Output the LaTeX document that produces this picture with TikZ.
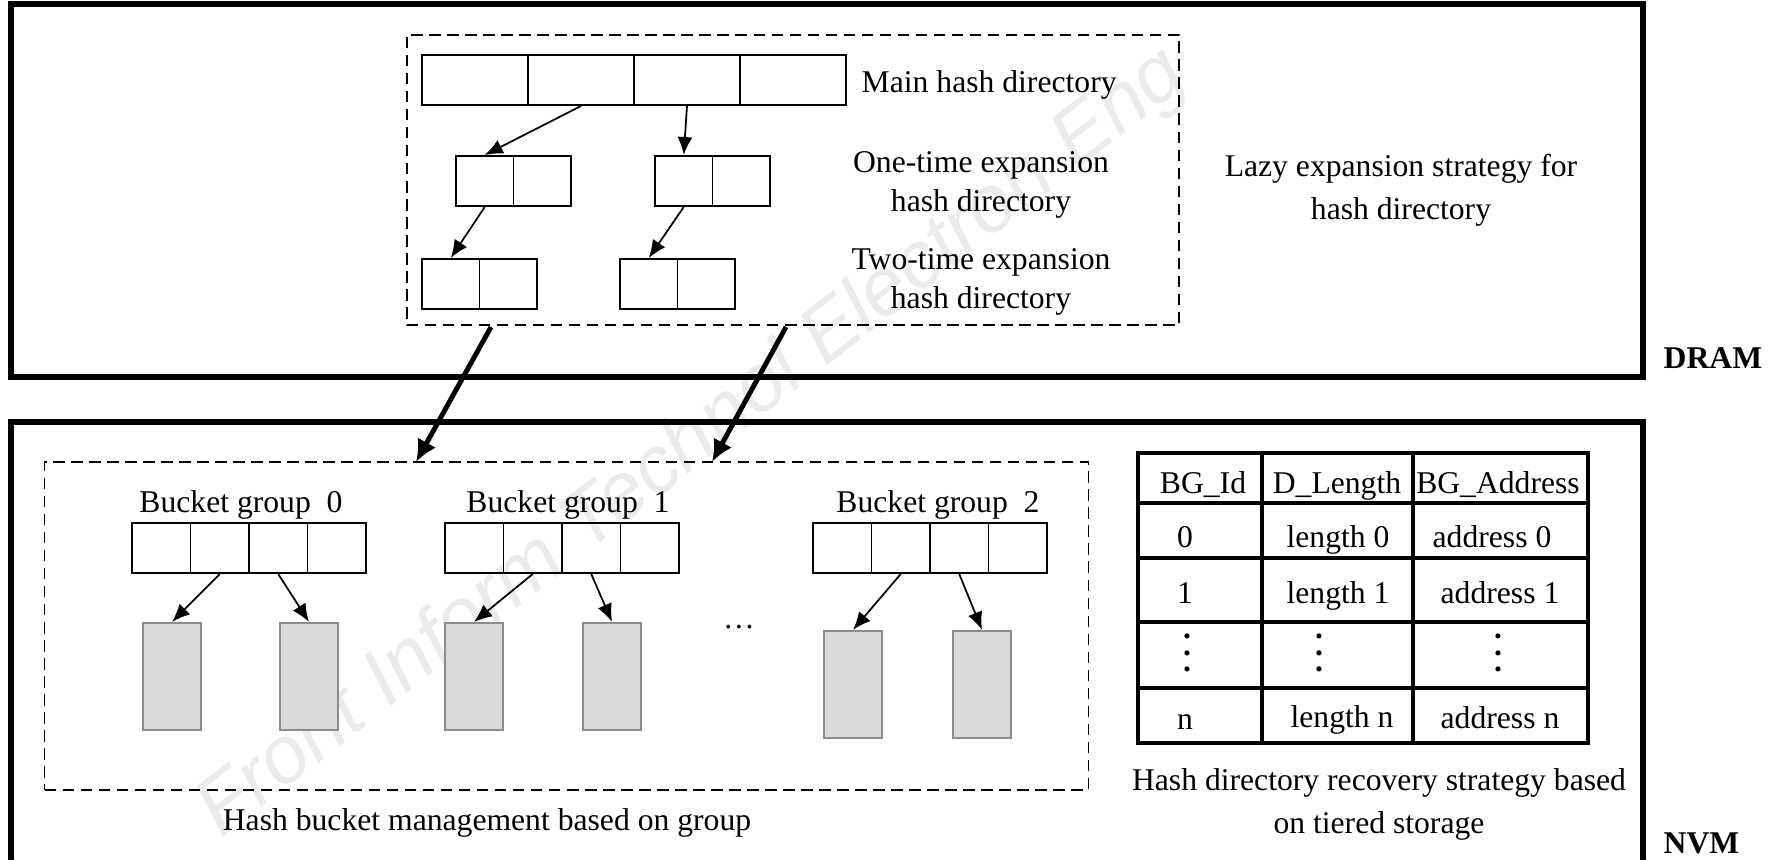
\documentclass[tikz,border=0pt]{standalone}
\usepackage{fontspec}
\setmainfont{Liberation Serif}
\setsansfont{Liberation Sans}
\usetikzlibrary{arrows.meta}
\newcommand{\tabdots}{\vbox{\baselineskip=4.7pt\lineskiplimit=0pt\hbox{\textbf{.}}\hbox{\textbf{.}}\hbox{\textbf{.}}}}

\begin{document}
\begin{tikzpicture}[x=0.01cm,y=-0.01cm,font=\fontsize{9}{11}\selectfont,
  membox/.style={line width=1.7pt},
  dashbox/.style={draw,line width=0.45pt,dash pattern=on 1.15mm off 0.65mm,inner sep=0pt},
  cell/.style={draw,line width=0.55pt,minimum height=0.5cm,inner sep=0pt},
  dircell/.style={cell,minimum width=1.06cm},
  expcell/.style={cell,minimum width=0.575cm},
  grpcell/.style={cell,minimum width=0.585cm},
  bucket/.style={draw=black!45,fill=black!15,line width=0.6pt,minimum width=0.58cm,minimum height=1.07cm,inner sep=0pt},
  ptr/.style={-{Latex[length=1.8mm,width=1.5mm]},line width=0.5pt},
  bigptr/.style={-{Latex[length=2.2mm,width=2.1mm]},line width=1.4pt},
  lbl/.style={align=center,inner sep=0pt},
  tabtxt/.style={anchor=base,inner sep=0pt},
  tabline/.style={line width=1pt},
  memlbl/.style={anchor=base west,inner sep=0pt,font=\fontsize{9}{11}\selectfont\bfseries}]

\useasboundingbox (0,0) rectangle (1775,859);

\node[rotate=38,text=black!8,font=\fontsize{23}{23}\selectfont\sffamily\itshape] (mark) at (693,444) {Front Inform Technol Electron Eng};

\draw[membox] (11,4) rectangle (1643,377);
\node[memlbl] (dram) at (1663,368) {DRAM};
\draw[membox] (11,422) rectangle (1643,880);
\node[memlbl] (nvm) at (1663,853) {NVM};

\node[dashbox,minimum width=7.72cm,minimum height=2.9cm] (dirarea) at (793,180) {};

\foreach \i in {1,...,4}
  \node[dircell] (main\i) at (369+106*\i,80) {};
\foreach \n/\x/\y in {onea/456/181,oneb/655/181,twoa/422/284,twob/620/284}{
  \node[expcell] (\n1) at (\x+28.75,\y) {};
  \node[expcell] (\n2) at (\x+86.25,\y) {};
}

\node[anchor=base west,inner sep=0pt] (mainlbl) at (861,92) {Main hash directory};
\node[lbl] (onelbl) at (981,185) {One-time expansion\\hash directory};
\node[lbl] (twolbl) at (981,282) {Two-time expansion\\hash directory};
\node[lbl,font=\fontsize{9}{12.2}\selectfont] (lazylbl) at (1401,190) {Lazy expansion strategy for\\hash directory};

\draw[ptr] (main2.south) -- (onea1.north);
\draw[ptr] (main3.south) -- (oneb1.north);
\draw[ptr] (onea1.south) -- (twoa1.north);
\draw[ptr] (oneb1.south) -- (twob1.north);

\node[dashbox,minimum width=10.43cm,minimum height=3.28cm] (grparea) at (566.5,626) {};

\coordinate (out1) at (491,327);
\coordinate (out2) at (786,327);
\coordinate (in1) at (416,462);
\coordinate (in2) at (712,462);
\draw[bigptr] (out1) -- (in1);
\draw[bigptr] (out2) -- (in2);

\foreach \k/\x in {0/132,1/445,2/813}
  \foreach \i in {1,...,4}
    \node[grpcell] (grp\k c\i) at (\x-29.25+58.5*\i,548) {};

\node[anchor=base,inner sep=0pt] (grp0lbl) at (241,512) {Bucket group\enspace0};
\node[anchor=base,inner sep=0pt] (grp1lbl) at (568,512) {Bucket group\enspace1};
\node[anchor=base,inner sep=0pt] (grp2lbl) at (938,512) {Bucket group\enspace2};

\node[bucket] (bk0a) at (172,676.5) {};
\node[bucket] (bk0b) at (309,676.5) {};
\node[bucket] (bk1a) at (474,676.5) {};
\node[bucket] (bk1b) at (612,676.5) {};
\node[bucket] (bk2a) at (853,684.5) {};
\node[bucket] (bk2b) at (982,684.5) {};

\draw[ptr] (grp0c2.south) -- (bk0a.north);
\draw[ptr] (grp0c3.south) -- (bk0b.north);
\draw[ptr] (grp1c2.south) -- (bk1a.north);
\draw[ptr] (grp1c3.south) -- (bk1b.north);
\draw[ptr] (grp2c2.south) -- (bk2a.north);
\draw[ptr] (grp2c3.south) -- (bk2b.north);

\node[anchor=base,inner sep=0pt] (more) at (739,628) {\ldots};
\node[anchor=base,inner sep=0pt] (grplbl) at (487,830) {Hash bucket management based on group};

\draw[tabline] (1138,453) rectangle (1588,743);
\foreach \y in {503,558,622,688}
  \draw[tabline] (1138,\y) -- (1588,\y);
\foreach \x in {1262,1413}
  \draw[tabline] (\x,453) -- (\x,743);

\node[tabtxt] (hid) at (1203,493) {BG\_Id};
\node[tabtxt] (hlen) at (1337,493) {D\_Length};
\node[tabtxt] (hadr) at (1498,493) {BG\_Address};
\node[tabtxt] (id0) at (1185,547) {0};
\node[tabtxt] (len0) at (1338,547) {length 0};
\node[tabtxt] (adr0) at (1492,547) {address 0};
\node[tabtxt] (id1) at (1185,603) {1};
\node[tabtxt] (len1) at (1338,603) {length 1};
\node[tabtxt] (adr1) at (1500,603) {address 1};
\node[inner sep=0pt] (idd) at (1187,653) {\tabdots};
\node[inner sep=0pt] (lend) at (1319,653) {\tabdots};
\node[inner sep=0pt] (adrd) at (1498,653) {\tabdots};
\node[tabtxt] (idn) at (1185,729) {n};
\node[tabtxt] (lenn) at (1342,727) {length n};
\node[tabtxt] (adrn) at (1500,728) {address n};

\node[lbl,font=\fontsize{9}{12.2}\selectfont] (reclbl) at (1379,804) {Hash directory recovery strategy based\\on tiered storage};
\end{tikzpicture}
\end{document}
